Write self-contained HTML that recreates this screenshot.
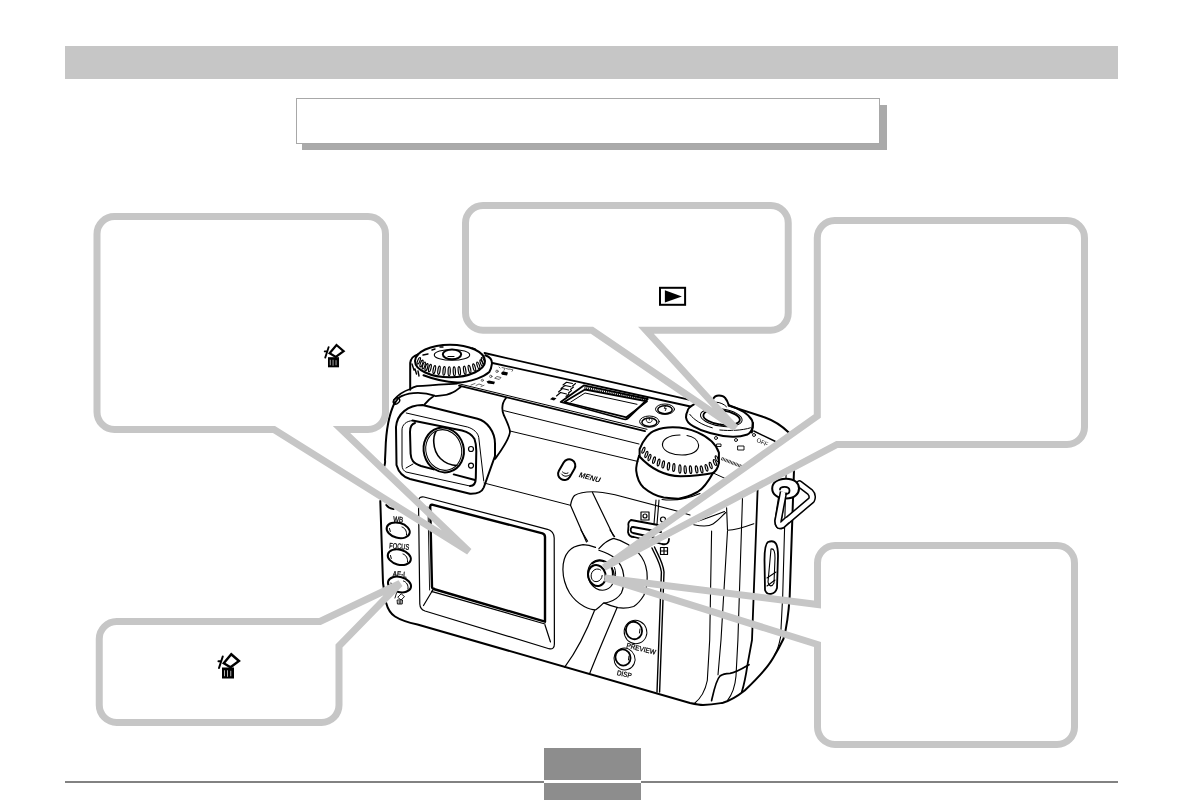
<!DOCTYPE html>
<html><head><meta charset="utf-8">
<style>
html,body{margin:0;padding:0;background:#fff;}
body{width:1183px;height:800px;overflow:hidden;position:relative;font-family:"Liberation Sans",sans-serif;}
svg{position:absolute;left:0;top:0;}
</style></head>
<body>
<svg width="1183" height="800" viewBox="0 0 1183 800">
<defs><filter id="gs" x="-10%" y="-10%" width="120%" height="120%"><feColorMatrix type="saturate" values="0"/></filter></defs>
<rect x="65" y="46" width="1053" height="33" fill="#c6c6c6"/>
<rect x="302" y="105" width="585" height="45" fill="#aaaaaa"/>
<rect x="296.5" y="98.5" width="583" height="45" fill="#fff" stroke="#a8a8a8" stroke-width="1"/>
<rect x="65" y="781" width="1053" height="2" fill="#828282"/>
<rect x="544" y="748" width="97" height="52" fill="#8d8d8d"/>
<rect x="544" y="780" width="97" height="3" fill="#fff"/>
<g id="camera" fill="none" stroke="#000" stroke-linecap="round" stroke-linejoin="round">
<!-- ===== body outline ===== -->
<g stroke-width="2">
<path d="M395,402 C390,412 386,430 385.5,450 L385,460 C385.5,463 384.5,465 384.4,466 M380.3,501 L383,583 L386,602.5 C388,610 391,614 395,616.5 C402,621 408,622.5 417.5,624.5 L690,703 C697,704.5 701,705 703,705 C712,704.5 718,703.5 723,702.8 C732,700 739,695 744.7,690.5 C758,678 768,667 773.4,657.5 C778,650 781,644 783.5,638.8 C786,630 788.5,615 789.7,596 L794,470"/>
<path d="M728.75,405.6 L765,417.5 C775,421 782,426 788.75,432.5"/>
</g>
<!-- ===== top plate lines ===== -->
<g stroke-width="1.8">
<path d="M484.5,353 L688.7,399.7"/>
<path d="M492.5,363 L690.5,406.5"/>
<path d="M459,385.6 L645,431.2"/>
</g>
<g stroke-width="1">
<path d="M457,383.3 L647,429.3"/>
<path d="M503.75,410.6 L639,444"/>
<path d="M510,431 L638,461.5"/>
</g>
<!-- ===== mode dial ===== -->
<g stroke-width="2">
<path d="M410.2,389.8 L410.2,363 C411,358 413,356 417.9,354.5"/>
<ellipse cx="450" cy="361" rx="35" ry="16.3"/>
<path d="M485.3,355.3 C490,357 492,360 492,363.3 C491.5,367 490.5,370 489.3,372.1 C486,375 482,377 477.3,378.6 C470,381 463,382.5 457.2,382.6 C445,382 433,379 423.5,375.3"/>

<ellipse cx="452" cy="354.3" rx="9.2" ry="4.9"/>
</g>
<g stroke-width="1.1">
<ellipse cx="452" cy="354.9" rx="17.7" ry="5.4"/>
<path d="M448,356.5 h6"/>
</g>
<g stroke-width="1.2">
<ellipse cx="418.8" cy="360.8" rx="1.10" ry="3.48" transform="rotate(21.5 418.8 360.8)"/>
<ellipse cx="421.5" cy="363.5" rx="1.10" ry="3.57" transform="rotate(19.7 421.5 363.5)"/>
<ellipse cx="423.8" cy="365.5" rx="1.10" ry="3.65" transform="rotate(18.1 423.8 365.5)"/>
<ellipse cx="426.5" cy="367.2" rx="1.10" ry="3.75" transform="rotate(16.3 426.5 367.2)"/>
<ellipse cx="429.9" cy="368.2" rx="1.10" ry="3.86" transform="rotate(14.1 429.9 368.2)"/>
<ellipse cx="434.3" cy="369.6" rx="1.10" ry="4.02" transform="rotate(11.1 434.3 369.6)"/>
<ellipse cx="439.0" cy="370.3" rx="1.10" ry="4.18" transform="rotate(8.0 439.0 370.3)"/>
<ellipse cx="444.1" cy="370.9" rx="1.10" ry="4.36" transform="rotate(4.6 444.1 370.9)"/>
<ellipse cx="449.2" cy="371.3" rx="1.10" ry="4.54" transform="rotate(1.2 449.2 371.3)"/>
<ellipse cx="454.3" cy="371.3" rx="1.10" ry="4.48" transform="rotate(-2.2 454.3 371.3)"/>
<ellipse cx="459.3" cy="370.9" rx="1.10" ry="4.31" transform="rotate(-5.5 459.3 370.9)"/>
<ellipse cx="464.7" cy="370.3" rx="1.10" ry="4.12" transform="rotate(-9.1 464.7 370.3)"/>
<ellipse cx="469.5" cy="369.2" rx="1.10" ry="3.96" transform="rotate(-12.3 469.5 369.2)"/>
<ellipse cx="474.2" cy="367.6" rx="1.10" ry="3.79" transform="rotate(-15.5 474.2 367.6)"/>
<ellipse cx="478.3" cy="365.5" rx="1.10" ry="3.65" transform="rotate(-18.2 478.3 365.5)"/>
<ellipse cx="481.6" cy="363.2" rx="1.10" ry="3.53" transform="rotate(-20.4 481.6 363.2)"/>
<ellipse cx="483.0" cy="360.8" rx="1.10" ry="3.48" transform="rotate(-21.3 483.0 360.8)"/>
</g>
<g stroke-width="1.4">
<path d="M412,364 l2,6 M415,369 l1.5,5 M418,371 l1,5"/>
<path d="M423,355 l5,-1 M432,350 l3,-1 M440,347 l3,0 M472,348 l3,1"/>
</g>
<g stroke-width="0.8" stroke="#444">
<path d="M499,367 l1,1 M502,367.5 l3,0.8 l-1,2 M506,368.5 l3,0.8 M509.5,369 l3.5,0.8 l-1,1.5"/>
<circle cx="497" cy="371.3" r="1.2"/>
<circle cx="490.8" cy="376.4" r="1.2"/>
<circle cx="482.3" cy="380.3" r="1.1"/>
<path d="M495,378 l2,-1.5 l4,1 l-1.5,1.7 z"/>
<path d="M471,385 l4,-1.5 M476,385.5 l3,-1.5 l3,1 M481,386.5 l3,-1.2"/>
</g>
<g fill="#000" stroke="none">
<path d="M501,373 l2,-1.8 l5,1.2 l-1,3 l-5,-0.7 z"/>
<path d="M486.5,381.5 l2.5,-1 l6,1.3 l-1,2.5 l-6,-0.8 z"/>
</g>

<!-- hump / eyecup housing -->
<g stroke-width="1.8">
<path d="M393.8,400 C398,395 404,391 410.3,389 C412.5,387.5 414.5,386.8 416.9,386.2 C430,385 445,384.3 457,383.6"/>
<path d="M460.8,386.8 C458,389 456,391 453.1,392.3 C449,394.5 444,395.5 440,395.6 L435.5,396.1"/>
<path d="M394.9,403.3 C396.5,400 398.5,397.5 401.5,396.1 C407,393.5 413,392.8 418,392.8 C424,392.8 430,394 434.5,395.6 C430,398.5 427,401.5 424.6,404.4"/>
<path d="M506,398 C502,403 501,408 503.75,415 C507,422 510,428 510,432 C509,440 500,452 495,459"/>
</g>
<g stroke-width="1.4">
<ellipse cx="396.5" cy="401" rx="3.6" ry="2.6" transform="rotate(-45 396.5 401)"/>
</g>
<!-- ===== eyecup ===== -->
<g stroke-width="2">
<path d="M422.5,405 L477.5,418.75 C487,421 495,432 495,443.75 L495,456 L483.75,487.5 C482,492 478,494 470,493.75 L410,479 C403,477 398.5,472 396.5,465 L396,427 C397,414 408,405 422.5,405 Z"/>
<path d="M412.5,420.6 L462,430.5 C468,432 472,434.5 474.5,439 C476,443 476.3,447 476.3,451 L475.8,478 C475.8,483 474,486 470,486"/>
<path d="M415,423 C411,424 410,428 410,432 L410.6,453.75 C411,460 413,463 421,466 L433.75,469.4"/>
<path d="M453.75,474.4 L475,480"/>
</g>
<g stroke-width="1">
<path d="M406.25,413 L467.5,427 C474,429 478,433 478.75,437.5 L483.75,481"/>
<path d="M412.5,420.6 C406,421 402,425 402,430 L402,465 C402,469 404,471 406,472 L470,486"/>
<path d="M406,468 L413,464"/>
<path d="M484,483 L570.5,505.3"/>
</g>
<g stroke-width="2">
<ellipse cx="443.75" cy="450" rx="20" ry="22.5" transform="rotate(-15 443.75 450)"/>
</g>
<g stroke-width="1">
<ellipse cx="443.75" cy="450" rx="17.8" ry="20.5" transform="rotate(-15 443.75 450)"/>
</g>
<g stroke-width="1.6">
<path d="M436,431.4 C434,435 433.5,439 433.8,442.7 C434.2,450 437,455 440.4,458.5 C444,462 450,465.5 457,465.5"/>
</g>
<g stroke-width="1.2">
<circle cx="471" cy="449" r="2.5"/>
<circle cx="471" cy="465.6" r="2.5"/>
</g>
<!-- ===== top LCD panel ===== -->
<g stroke-width="1.8">
<path d="M583.8,385.4 L647.7,399 L627.6,418.5 C626.5,419.5 625,419.5 623,419 L560.7,402 Z"/>
<path d="M585,389.5 L647,401.4 L626.4,417.3 L564.3,402 Z"/>
</g>
<g stroke-width="1">
<path d="M570.8,402 L585,393 L637,404.3"/>
</g>
<g stroke-width="2.2" stroke-dasharray="0.9,1" stroke-linecap="butt">
<path d="M584.5,387.5 L647.3,400.2"/>
</g>
<g stroke-width="1.1">
<path d="M556.5,396 l4,-3.5 l6,1.5 M558.5,392 l4,-3.5 l6,1.5 M561,388.5 l4,-3 l6,1.3 M563,385 l3.5,-2.8 l6,1.3 M566,396.5 l3,-2.5 M568.5,393 l3,-2.5 M570.5,389.5 l3,-2.5 M572.5,386 l3,-2.5"/>
</g>
<g fill="#000" stroke="none">
<path d="M550,399.2 l2.5,-2 l4,1 l-2.5,2.2 z"/>
</g>
<!-- small buttons -->
<g stroke-width="1">
<ellipse cx="665" cy="409.2" rx="9.5" ry="5.2"/>
<ellipse cx="649.4" cy="421.6" rx="9.8" ry="5.6"/>
</g>
<g stroke-width="1.5">
<ellipse cx="665" cy="409.7" rx="7.2" ry="4"/>
<ellipse cx="649.4" cy="422.2" rx="7.5" ry="4.2"/>
</g>
<g stroke-width="0.9">
<path d="M665.5,405.8 l-1.2,2.6 h2 l-1,2.2"/>
<path d="M646.5,419.5 a3,2.2 0 1 0 5.5,0 M649.3,418 v2"/>
</g>
<!-- ===== LCD monitor ===== -->
<g stroke-width="1.2">
<path d="M424,497 L547.5,529.3 C551.5,530.5 554,533 554.2,538 L554.4,644 C554.4,648 552.5,649.5 549,648.7 L425,611 C422,610 420,608 419.8,604 L418.5,501 C418.5,497.5 421,496.5 424,497 Z"/>
<path d="M434,588 L423.5,605.5 M545,625 L550.5,642 M431.4,591.3 L545,624"/>
</g>
<g stroke-width="2.4">
<path d="M432,504.7 L542.5,533.3 C544.5,534 545,535 545,537 L545,621.7 L433.6,589 C432.5,588.5 432,588 432,587 L430.2,507 C430.2,505 431,504.5 432,504.7 Z"/>
</g>
<g stroke-width="0.9">
<path d="M428,507 L429.6,590"/>
</g>
<!-- ===== left buttons ===== -->
<g stroke-width="2">
<path d="M386.3,505 C388,507.5 390,508.5 393.5,509"/>
<ellipse cx="398.2" cy="530.3" rx="11.8" ry="7.5" transform="rotate(15 398.2 530.3)"/>
<ellipse cx="399.3" cy="557.2" rx="11.8" ry="7.5" transform="rotate(15 399.3 557.2)"/>
<ellipse cx="399.5" cy="584.5" rx="11.8" ry="7.5" transform="rotate(15 399.5 584.5)"/>
</g>
<g stroke-width="1">
<path d="M402,527 C405,528 407,531 406.5,535 M403,554 C406,555 408,558 407.5,562 M403.5,581 C406.5,582 408.5,585 408,589"/>
<path d="M389.5,528.5 l0.8,3 M390.5,555.5 l0.8,3 M391,583 l0.3,1"/>
</g>
<g fill="#000" stroke="#000" stroke-width="0.3" filter="url(#gs)" font-family="Liberation Sans, sans-serif" font-size="8" text-anchor="middle">
<text x="398" y="522.3" transform="rotate(5 398 522.3)" textLength="10" lengthAdjust="spacingAndGlyphs">WB</text>
<text x="399" y="549" transform="rotate(5 399 549)" textLength="20" lengthAdjust="spacingAndGlyphs">FOCUS</text>
<text x="399.5" y="577" transform="rotate(5 399.5 577)" textLength="14" lengthAdjust="spacingAndGlyphs">AE-L</text>
</g>
<g stroke-width="0.9">
<path d="M396.5,593 l-1.5,5 M398,597 l3.2,-3.2 l3.3,2.8 l-3.2,3.2 z M397.5,600 h5 l-0.3,4 h-4.4 z M399.2,601 v2.5 M400.8,601 v2.5"/>
</g>
<!-- ===== MENU button ===== -->
<g stroke-width="2">
<rect x="560.45" y="458.7" width="12.5" height="22" rx="6.25" transform="rotate(30 566.7 469.7)"/>
</g>
<g stroke-width="1">
<path d="M561.5,474 C563.5,476.5 566,477 569.5,475 M562.5,472 C564,473.5 566,474 568,473"/>
</g>
<g fill="#000" stroke="none" filter="url(#gs)" font-family="Liberation Sans, sans-serif" font-size="7.5" font-weight="bold" font-style="italic">
<text x="578.5" y="477" transform="rotate(15 578.5 477)" textLength="22" lengthAdjust="spacingAndGlyphs">MENU</text>
</g>
<!-- ===== zoom dial ===== -->
<g stroke-width="2">
<path d="M639.6,456 L639.6,449.2 C643,440 650,432 655,430.5 C660,428.5 665,427.3 672.7,427.3 C683,427.3 691,429.5 697.5,432.4 C708,437 716,444 718.9,452.6 L718.9,462.7"/>
<path d="M639,456 C650,468 665,476 680.6,476.2 C695,476 708,474 713.2,472.9 C716,471 717.7,469 718.9,462.7"/>
<path d="M639,456 C637,462 636,467 636.2,470.6 C637,478 640,484 643.5,487.5 C650,493 656,496 663.7,497.6 C670,498.5 675,498.7 678.4,498.7 C685,498 692,495 697.5,492 C704,488 708,482 713,472.9"/>
</g>
<g stroke-width="1.1">
<path d="M662,499.5 C670,500.5 685,500 700,493.5"/>
<path d="M680,435 C668,435 661.5,440 662.6,446 C664,452 673,455 682,455 C692,455 699,451 698.6,445 C698,440 693,436.5 687,435.5"/>
<path d="M656,500 L654,524 M659,500 L657,524"/>
</g>
<g stroke-width="1.2">
<ellipse cx="643.4" cy="450.3" rx="1.10" ry="3.11" transform="rotate(21.2 643.4 450.3)"/>
<ellipse cx="646.4" cy="454.5" rx="1.10" ry="3.19" transform="rotate(19.5 646.4 454.5)"/>
<ellipse cx="649.5" cy="457.6" rx="1.10" ry="3.28" transform="rotate(17.7 649.5 457.6)"/>
<ellipse cx="654.0" cy="460.2" rx="1.10" ry="3.40" transform="rotate(15.1 654.0 460.2)"/>
<ellipse cx="658.6" cy="462.5" rx="1.10" ry="3.52" transform="rotate(12.4 658.6 462.5)"/>
<ellipse cx="663.2" cy="464.4" rx="1.10" ry="3.65" transform="rotate(9.7 663.2 464.4)"/>
<ellipse cx="668.5" cy="466.3" rx="1.10" ry="3.79" transform="rotate(6.7 668.5 466.3)"/>
<ellipse cx="673.8" cy="467.5" rx="1.10" ry="3.93" transform="rotate(3.6 673.8 467.5)"/>
<ellipse cx="679.9" cy="469.0" rx="1.10" ry="4.10" transform="rotate(0.1 679.9 469.0)"/>
<ellipse cx="685.2" cy="469.7" rx="1.10" ry="3.96" transform="rotate(-3.0 685.2 469.7)"/>
<ellipse cx="690.6" cy="469.7" rx="1.10" ry="3.81" transform="rotate(-6.1 690.6 469.7)"/>
<ellipse cx="696.6" cy="469.4" rx="1.10" ry="3.65" transform="rotate(-9.6 696.6 469.4)"/>
<ellipse cx="701.6" cy="469.4" rx="1.10" ry="3.52" transform="rotate(-12.5 701.6 469.4)"/>
<ellipse cx="706.5" cy="467.8" rx="1.10" ry="3.39" transform="rotate(-15.3 706.5 467.8)"/>
<ellipse cx="710.7" cy="465.5" rx="1.10" ry="3.27" transform="rotate(-17.8 710.7 465.5)"/>
<ellipse cx="714.9" cy="462.5" rx="1.10" ry="3.16" transform="rotate(-20.2 714.9 462.5)"/>
<ellipse cx="716.8" cy="458.7" rx="1.10" ry="3.11" transform="rotate(-21.3 716.8 458.7)"/>
</g>
<!-- ===== shutter/power ===== -->
<g stroke-width="2">
<path d="M698,402.3 C696.5,403 695.3,403.5 694.3,404.1 C690,406.5 687.5,409 687.5,411.3 C686.5,413 686,415 686,417.3 C686.5,421 689,424 693.5,426.3 C698,429 704,431.5 710,433 C717,435 725,436.5 732.5,436.8 C738,437 743,436 747.5,434.5 C750,433 752,430 752.8,427 C753,424.5 752.8,422 752,420.3 C750,416.5 747,414 743.8,412 C739,409 734,407 728.8,405.3"/>
<path d="M753,423 L751.8,432.5"/>
<path d="M713,399.3 C714,397 716.5,395.5 719,395.5 C722,395.5 724,396.5 725,397.75 C727,400 728,402.5 728.8,405.3"/>
</g>
<g stroke-width="1">
<path d="M716.75,402.25 C720,402.5 724,404 726.5,406.75"/>
<ellipse cx="721.3" cy="417.6" rx="21" ry="8.6" transform="rotate(8 721.3 417.6)"/>
<path d="M689.75,414.3 C694,420 702,425 712.3,427.8 M719.8,430 C730,431 742,430.5 750.5,427.8"/>
</g>
<g stroke-width="1.8">
<ellipse cx="721.6" cy="417.6" rx="18.4" ry="7.2" transform="rotate(8 721.6 417.6)"/>
</g>
<g fill="#000" stroke="none">
<path d="M720,423.5 l5,1.5 l-4.5,1 z"/>
</g>
<g stroke-width="1.4">
<path d="M753.75,431 L775,441.25"/>
<path d="M712.6,472.7 L725,478.4" stroke-width="1"/>
</g>
<g stroke-width="0.9">
<circle cx="716" cy="438" r="1.5"/><circle cx="736" cy="440" r="1.5"/><circle cx="754" cy="435" r="1.5"/>
<path d="M717,444 h4 v2.5 h-4 z M738,446 h6 v4 h-6 z"/>
</g>
<g fill="#000" stroke="none" filter="url(#gs)" font-family="Liberation Sans, sans-serif" font-size="6">
<text x="756" y="441.5" transform="rotate(25 756 441.5)">OFF</text>
</g>
<g stroke-width="3.2" stroke-dasharray="0.7,0.8" stroke-linecap="butt">
<path d="M721.5,458.5 L741.5,466.5"/>
</g>
<!-- ===== grip area ===== -->
<g stroke-width="1.2">
<path d="M570.5,505.3 C571.5,500 573,497 574.5,495.5 C580,492 586,491.75 592.5,491.75 C600,491.75 607,493 615,494.75 L675,510.5 L690,515"/>
<path d="M690,523.5 C700,521 715,515 724.5,511.5"/>
<path d="M570.5,505.3 L586.5,542"/>
<path d="M592.5,492.5 L613.5,536"/>
<path d="M594.5,610.5 C589,625 581,645 564.7,667.2"/>
<path d="M617,607.7 C612,620 598,652 589.5,674"/>
</g>
<g stroke-width="1.4">
<path d="M652,548 C655,555 660,562 661.4,572 L657,692"/>
<path d="M654.5,547 C657.5,554 663,562 664,572 L659.6,692"/>
</g>
<!-- mode lever -->
<g stroke-width="1.8">
<path d="M631,520 L658,525 M631,520 C628,522 628,524 628.5,526 L628,532 C628.5,535 631,537 634,537 L662,544 C667,545 669,543 669,539"/>
<path d="M632,527 C630,529 630,532 633,533 L660,539 M633,527 L661,532"/>
</g>
<g stroke-width="1.2">
<path d="M641,512 h8 v8 h-8 z"/>
<circle cx="645" cy="516" r="2"/>
<circle cx="663" cy="519.5" r="2.5"/>
<path d="M660.5,547.5 h7 v7 h-7 z M664,547.5 v7 M660.5,551 h7"/>
</g>
<!-- joystick pad -->
<g stroke-width="1.2">
<path d="M595.5,547.4 C591,545.5 587,544.6 583.1,544.6 C576,545.5 571,548 568.5,551.4 C564.5,556 562.9,562 562.9,569.4 C563,578 565.5,586 569.6,593 C573.5,599 578.5,603.5 584.2,606.5 C588,608.5 592,609.9 595.5,609.9 C598.5,608 601,605.5 603.4,603.1"/>
<path d="M598.9,550.2 C604,552 609.5,554 613.5,557 C619.5,562 623,568 623.6,575 C624.5,582 623.5,588 621.4,593 C618.5,597.5 614,600.5 609,602 C606.5,602.8 605,603 603.4,603.1"/>
<path d="M598.9,548.6 C603,544 608,540 613.5,538.4 C618.5,539.5 623.5,541.5 628.1,544.6 C634,548.5 638.5,552.5 641.6,557 C645.5,563 647.2,570 647.2,577.2 C647.2,584 646,590 643.9,595.2 C641,600 637.5,604 633.7,606.5 C628.5,608 623,608.5 618,607.6 C613,606.5 608.5,605 604.5,603.1"/>
<path d="M580.9,530 L587.6,541.2 M610,530 L614.6,536.7"/>
</g>
<g stroke-width="1.1">
<ellipse cx="601" cy="575" rx="13" ry="15.5" transform="rotate(-20 601 575)"/>
</g>
<g stroke-width="2" fill="#fff">
<ellipse cx="596.9" cy="575.5" rx="8.7" ry="10.7" transform="rotate(-15 596.9 575.5)"/>
</g>
<g stroke-width="1">
<path d="M600.5,570 C599,568.8 597,568.8 595,569.5 C592,571 590.8,574 591.2,577 C591.8,580.5 594,582 597,581.6 C600,581 602,578.5 602.2,575.5"/>
</g>
<g stroke-width="1.8">
<path d="M592,563.5 C595,561 600,560 604,561.5"/>
<path d="M611.5,567.5 C613,571 613,577 611.5,581.5"/>
</g>
<g stroke-width="1">
<path d="M614.5,567.5 C616,571 616,577 614.5,582"/>
</g>
<!-- PREVIEW/DISP -->
<g stroke-width="1">
<ellipse cx="635.5" cy="632" rx="11.3" ry="11.8" transform="rotate(-20 635.5 632)"/>
<ellipse cx="624.5" cy="659" rx="10.5" ry="11" transform="rotate(-20 624.5 659)"/>
</g>
<g stroke-width="1.8">
<ellipse cx="634" cy="630.5" rx="8" ry="8.8" transform="rotate(-20 634 630.5)"/>
<ellipse cx="623" cy="657.5" rx="7.5" ry="8.2" transform="rotate(-20 623 657.5)"/>
</g>
<g stroke-width="1">
<path d="M640,629 l-0.5,4 M629,656 l-0.5,4"/>
</g>
<g fill="#000" stroke="#000" stroke-width="0.25" filter="url(#gs)" font-family="Liberation Sans, sans-serif" font-size="7">
<text x="626" y="647.5" transform="rotate(14 626 647.5)" textLength="30" lengthAdjust="spacingAndGlyphs">PREVIEW</text>
<text x="616.5" y="675" transform="rotate(12 616.5 675)" textLength="15" lengthAdjust="spacingAndGlyphs">DISP</text>
</g>
<!-- ===== right side ===== -->
<g stroke-width="1.1">
<path d="M786.2,470 L782.7,596 L780.6,637 C779,645 777,651 774.9,654.6"/>
<path d="M742.5,497.5 L737.9,640 L736,676 C735,688 731,696 727.4,700.6"/>
<path d="M727.5,531 L721,640 L718,674.7"/>
<path d="M711.6,531 L709.7,640 L707.3,680.5 C705,692 700,699 694.4,703.5"/>
<path d="M726.6,507.8 L727.5,530.3 C735,530 745,527 753.8,523.8"/>
<path d="M693.8,524.7 C700,526 708,527 713,524 C718,521 722,516 725.7,512.5"/>
<path d="M711.6,700.6 C714,690 716,680 720,676 C723,673.5 726,673.3 730,673.3 C735,673 740,670 749,664.7" stroke-width="1.7"/>
</g>
<g stroke-width="1.8">
<path d="M757.6,490 L752,640 L747.5,664.7 C746,675 744,685 741.8,692"/>
<path d="M768,542 C776,539 778,545 778,556 L777,588 C775,595 767,596 765,590 L764.5,560 C764.5,550 765,544 768,542 Z"/>
</g>
<g stroke-width="1.1">
<path d="M771,549 C774,548 775,552 775,558 L774,583 C772,587 769,587 768,582 Z"/>
<path d="M767,578 L776,572 M767,586 L775,580"/>
</g>
<!-- strap lug -->
<g stroke-linejoin="round">
<path d="M799.5,484 L810,492 Q813.5,495.5 811.5,500 L782,525 Q778,527 778,521 L782,496" stroke="#000" stroke-width="7.6"/>
<path d="M799.5,484 L810,492 Q813.5,495.5 811.5,500 L782,525 Q778,527 778,521 L782,496" stroke="#fff" stroke-width="4.6"/>
<path d="M786,478.7 C794.5,478.7 799,483 799,488.5 C799,494 794.5,498.5 786,498.5 C777,498.5 772.2,494 772.2,488.5 C772.2,483 777,478.7 786,478.7 Z" stroke-width="2" fill="#fff"/>
<path d="M783.5,492 L778,521 Q778,527 782,525 L787,520.5" stroke="#000" stroke-width="7.6" stroke-linecap="butt"/>
<path d="M783.5,492 L778,521 Q778,527 782,525 L788,519.5" stroke="#fff" stroke-width="4.6" stroke-linecap="butt"/>
<path d="M780,489.5 C780,487.5 782,486.8 784.5,486.8 C787.5,486.8 789.5,488 789.5,490.5 C789.5,492.5 788,494 786,494"  stroke-width="1.8"/>
</g>
</g>
<g fill="none" stroke="#c6c6c6" stroke-width="7" stroke-linejoin="miter" stroke-miterlimit="4">
<path d="M115,216.5 H368 A17.5,17.5 0 0 1 385.5,234 V412 A17.5,17.5 0 0 1 368,429.5 H341.5 L469,551.5 L274,429.5 H115 A17.5,17.5 0 0 1 97,412 V234 A17.5,17.5 0 0 1 115,216.5 Z"/>
<path d="M483.0,205.5 H770.75 A17.5,17.5 0 0 1 788.25,223.0 V312.75 A17.5,17.5 0 0 1 770.75,330.25 H646 L735.5,428 L592,330.25 H483.0 A17.5,17.5 0 0 1 465.5,312.75 V223.0 A17.5,17.5 0 0 1 483.0,205.5 Z"/>
<path d="M834.8,220.5 H1067.0 A17.5,17.5 0 0 1 1084.5,238.0 V427.0 A17.5,17.5 0 0 1 1067.0,444.5 H837 L604,567.5 L817.3,416 V238.0 A17.5,17.5 0 0 1 834.8,220.5 Z"/>
<path d="M835.0,545.5 H1057.0 A17.5,17.5 0 0 1 1074.5,563.0 V727.0 A17.5,17.5 0 0 1 1057.0,744.5 H835.0 A17.5,17.5 0 0 1 817.5,727.0 V644.5 L605,578 L817.5,604.5 V563.0 A17.5,17.5 0 0 1 835.0,545.5 Z"/>
<path d="M116.75,621.5 H320 L400,583.5 L339,646 V705.0 A17.5,17.5 0 0 1 321.5,722.5 H116.75 A17.5,17.5 0 0 1 99.25,705.0 V639.0 A17.5,17.5 0 0 1 116.75,621.5 Z"/>
</g>
<defs>
<g id="trash">
<path d="M0,0 L7.75,6.75 L-0.75,13 L-7.5,9 Z" fill="none" stroke="#000" stroke-width="2.4" stroke-linejoin="miter"/>
<rect x="-9.25" y="13.25" width="12" height="11" fill="#000"/>
<path d="M-6.75,16 V22 M-3.75,16 V22.5 M-0.5,16.5 V22" stroke="#fff" stroke-width="0.7"/>
<path d="M-8.5,2.25 L-12.25,13.75 M-12.8,7 L-10.5,7" stroke="#000" stroke-width="2" stroke-linecap="round"/>
</g>
</defs>
<use href="#trash" transform="translate(231.25,654.25)"/>
<use href="#trash" transform="translate(336.5,345) scale(0.92)"/>
<rect x="660" y="287.8" width="25.1" height="17" fill="none" stroke="#000" stroke-width="2"/>
<path d="M664.9,290.3 L681.9,296.4 L664.9,302.5 Z" fill="#000"/>
</svg>
</body></html>
